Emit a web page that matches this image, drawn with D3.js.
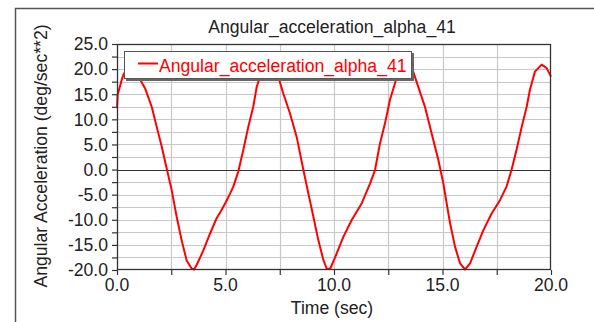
<!DOCTYPE html>
<html>
<head>
<meta charset="utf-8">
<script src="https://cdn.jsdelivr.net/npm/d3@7"></script>
<style>
  html, body { margin: 0; padding: 0; background: #fff; }
  svg { display: block; }
  text { font-family: "Liberation Sans", Arial, sans-serif; }
</style>
</head>
<body>
<svg id="chart" width="594" height="322"></svg>
<script>
const chartTitle = "Angular_acceleration_alpha_41";
const seriesName = "Angular_acceleration_alpha_41";
const xLabel = "Time (sec)";
const yLabel = "Angular Acceleration (deg/sec**2)";

const time = [0, 0.03, 0.22, 0.3, 0.5, 0.7, 0.9, 1.06, 1.29, 1.6, 1.83, 2.06, 2.29, 2.52, 2.75, 2.98, 3.21, 3.44, 3.55, 3.67, 3.98, 4.29, 4.59, 4.8, 5.0, 5.21, 5.36, 5.59, 5.82, 6.05, 6.28, 6.44, 6.59, 6.8, 7.0, 7.2, 7.43, 7.66, 7.97, 8.28, 8.59, 8.82, 9.05, 9.28, 9.51, 9.66, 9.82, 10.05, 10.43, 10.81, 11.28, 11.66, 11.89, 12.12, 12.35, 12.58, 12.81, 12.96, 13.15, 13.3, 13.5, 13.65, 13.88, 14.19, 14.5, 14.81, 15.04, 15.27, 15.35, 15.58, 15.81, 16.04, 16.27, 16.57, 16.88, 17.27, 17.65, 17.95, 18.18, 18.41, 18.65, 18.88, 19.03, 19.26, 19.57, 19.8, 20.0];
const alpha = [12.2, 14.9, 17.9, 18.9, 20.3, 20.9, 19.8, 18.0, 16.2, 12.5, 8.5, 4.6, 0.2, -4.1, -9.4, -14.1, -18.1, -19.7, -19.9, -19.0, -16.1, -12.7, -9.7, -8.2, -6.6, -4.8, -3.4, -0.4, 3.9, 8.5, 12.5, 16.5, 18.5, 20.4, 20.9, 20.0, 18.5, 15.2, 11.2, 6.5, -0.1, -4.8, -9.4, -14.1, -18.0, -19.7, -19.8, -17.5, -13.4, -10.1, -6.7, -2.8, -0.1, 5.2, 9.2, 13.9, 17.2, 19.5, 20.6, 20.9, 20.3, 19.5, 16.5, 12.5, 7.2, 1.9, -2.8, -8.7, -10.7, -15.4, -18.7, -19.9, -18.7, -15.4, -12.1, -8.7, -6.1, -3.4, -0.1, 3.9, 8.5, 12.5, 15.9, 19.5, 20.9, 20.2, 18.5];

const xTickLabels = [0, 5, 10, 15, 20];
const yTickLabels = [25, 20, 15, 10, 5, 0, -5, -10, -15, -20];
const xDomain = [0, 20];
const yDomain = [-20, 25];
const gridStep = 2.5;

const svg = d3.select("#chart");
const L = 117, R = 551, T = 44, B = 270;
const FS = 17.6;
const x = d3.scaleLinear().domain(xDomain).range([L, R]);
const y = d3.scaleLinear().domain(yDomain).range([B, T]);

// outer frame
svg.append("path")
  .attr("d", "M15.5,330 L15.5,8.5 L600,8.5")
  .attr("fill", "none").attr("stroke", "#555").attr("stroke-width", 1.5);

// plot background
svg.append("rect").attr("x", L).attr("y", T).attr("width", R - L).attr("height", B - T)
  .attr("fill", "#fff");

const gridX = d3.range(xDomain[0], xDomain[1] + 0.001, gridStep);
const gridY = d3.range(yDomain[0], yDomain[1] + 0.001, gridStep);

// grid
svg.append("g").selectAll("line").data(gridX.slice(1, -1)).join("line")
  .attr("x1", d => Math.round(x(d)) + 0.5).attr("x2", d => Math.round(x(d)) + 0.5)
  .attr("y1", T).attr("y2", B)
  .attr("stroke", "#c8c8c8").attr("stroke-width", 1.2);
svg.append("g").selectAll("line").data(gridY.slice(1, -1).filter(d => d !== 0)).join("line")
  .attr("y1", d => Math.round(y(d)) + 0.5).attr("y2", d => Math.round(y(d)) + 0.5)
  .attr("x1", L).attr("x2", R)
  .attr("stroke", "#c8c8c8").attr("stroke-width", 1.2);

// zero line
svg.append("line").attr("x1", L).attr("x2", R)
  .attr("y1", Math.round(y(0)) + 0.5).attr("y2", Math.round(y(0)) + 0.5)
  .attr("stroke", "#333").attr("stroke-width", 1.2);

// axes via d3
const xAxis = d3.axisBottom(x).tickValues(gridX).tickSize(5).tickFormat("");
const gx = svg.append("g").attr("transform", `translate(0,${B})`).call(xAxis);
gx.select(".domain").remove();
gx.selectAll("line").attr("stroke", "#333").attr("stroke-width", 1.2);

const yAxis = d3.axisLeft(y).tickValues(gridY).tickSize(5).tickFormat("");
const gy = svg.append("g").attr("transform", `translate(${L},0)`).call(yAxis);
gy.select(".domain").remove();
gy.selectAll("line").attr("stroke", "#333").attr("stroke-width", 1.2);

// data line
const data = time.map((t, i) => ({ t, v: alpha[i] }));
svg.append("path").datum(data)
  .attr("fill", "none").attr("stroke", "#ff0000").attr("stroke-width", 2)
  .attr("stroke-linejoin", "round")
  .attr("d", d3.line().x(d => x(d.t)).y(d => y(d.v)).curve(d3.curveLinear));

// plot border
svg.append("rect").attr("x", L + 0.5).attr("y", T + 0.5).attr("width", R - L - 1).attr("height", B - T - 1)
  .attr("fill", "none").attr("stroke", "#333").attr("stroke-width", 1.3);

// tick labels
svg.append("g").selectAll("text").data(yTickLabels).join("text")
  .attr("x", 108).attr("y", d => y(d) + 6.3)
  .attr("text-anchor", "end").attr("font-size", FS).attr("fill", "#222")
  .text(d => d.toFixed(1));
svg.append("g").selectAll("text").data(xTickLabels).join("text")
  .attr("x", d => x(d)).attr("y", 291)
  .attr("text-anchor", "middle").attr("font-size", FS).attr("fill", "#222")
  .text(d => d.toFixed(1));

// title and axis labels
svg.append("text").attr("x", 332).attr("y", 33)
  .attr("text-anchor", "middle").attr("font-size", FS).attr("fill", "#222").text(chartTitle);
svg.append("text").attr("x", 332).attr("y", 314)
  .attr("text-anchor", "middle").attr("font-size", FS).attr("fill", "#222").text(xLabel);
svg.append("text").attr("transform", "translate(47,156) rotate(-90)")
  .attr("text-anchor", "middle").attr("font-size", FS).attr("fill", "#222").text(yLabel);

// legend
const lg = svg.append("g");
lg.append("rect").attr("x", 126).attr("y", 53).attr("width", 288).attr("height", 28).attr("fill", "#666");
lg.append("rect").attr("x", 124.5).attr("y", 51.5).attr("width", 287).attr("height", 27)
  .attr("fill", "#fff").attr("stroke", "#555").attr("stroke-width", 1);
lg.append("line").attr("x1", 138).attr("x2", 158).attr("y1", 63.5).attr("y2", 63.5)
  .attr("stroke", "#ff0000").attr("stroke-width", 2);
lg.append("text").attr("x", 159).attr("y", 72).attr("font-size", FS).attr("fill", "#ff0000").text(seriesName);
</script>
</body>
</html>
